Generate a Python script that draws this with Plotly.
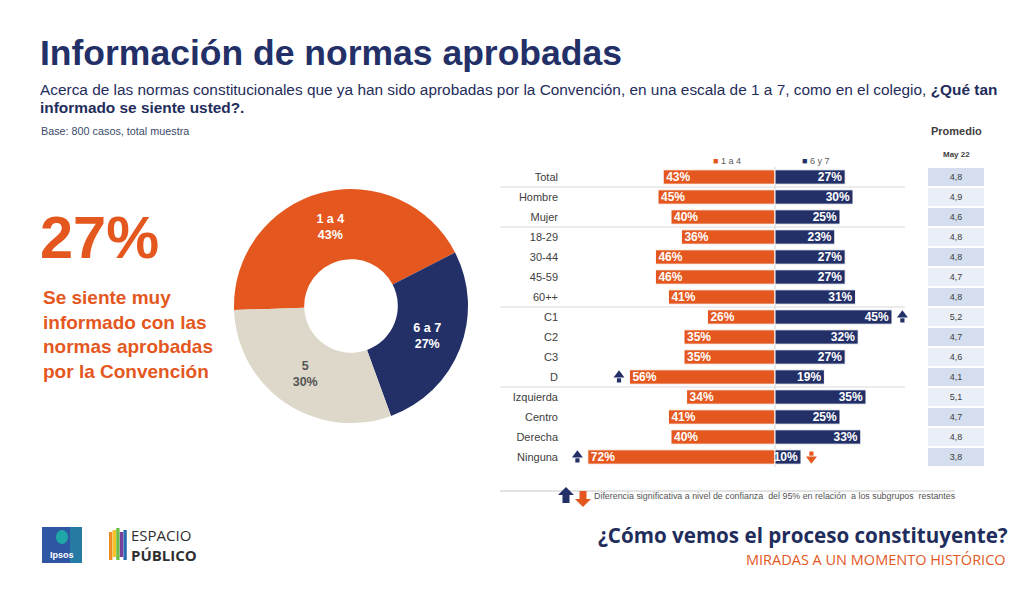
import plotly.graph_objects as go

W, H = 1024, 592
OFF = 8  # the page body margin shifts the plot by 8px

ORANGE = '#E4571E'
NAVY = '#233068'
BEIGE = '#DDD8C9'
GRAY = '#404040'

# donut
donut_labels = ['1 a 4', '6 a 7', '5']
donut_values = [43, 27, 30]

# bars by subgroup
rows = ['Total', 'Hombre', 'Mujer', '18-29', '30-44', '45-59', '60++',
        'C1', 'C2', 'C3', 'D', 'Izquierda', 'Centro', 'Derecha', 'Ninguna']
group_sizes = [1, 2, 4, 4, 4]
v_1a4 = [43, 45, 40, 36, 46, 46, 41, 26, 35, 35, 56, 34, 41, 40, 72]
v_6y7 = [27, 30, 25, 23, 27, 27, 31, 45, 32, 27, 19, 35, 25, 33, 10]
sig_1a4 = ['', '', '', '', '', '', '', '', '', '', 'up', '', '', '', 'up']
sig_6y7 = ['', '', '', '', '', '', '', 'up', '', '', '', '', '', '', 'down']
promedio = ['4,8', '4,9', '4,6', '4,8', '4,8', '4,7', '4,8',
            '5,2', '4,7', '4,6', '4,1', '5,1', '4,7', '4,8', '3,8']


def px(x):
    return (x - OFF) / W


def py(y):
    return 1 - (y - OFF) / H


idx = list(range(len(rows)))
fig = go.Figure()

# donut
fig.add_trace(go.Pie(
    labels=donut_labels, values=donut_values, hole=0.4, sort=False,
    direction='clockwise', rotation=-92,
    marker=dict(colors=[ORANGE, NAVY, BEIGE], line=dict(width=0)),
    text=[f'<b>{l}<br>{v}%</b>' for l, v in zip(donut_labels, donut_values)],
    textinfo='text', textposition='inside', insidetextorientation='horizontal',
    textfont=dict(family='Liberation Sans, Arial', size=12.5, color=['white', 'white', '#555555']),
    domain=dict(x=[px(234), px(468)], y=[py(423), py(189)]),
    showlegend=False, hoverinfo='skip'))

# bars
fig.add_trace(go.Bar(
    y=idx, x=[-v for v in v_1a4], orientation='h', width=0.72,
    marker=dict(color=ORANGE, line=dict(color='white', width=1)),
    text=[f'<b>{v}%</b>' for v in v_1a4], textposition='inside', insidetextanchor='end',
    textfont=dict(family='Liberation Sans, Arial', size=12, color='white'),
    name='1 a 4', showlegend=False, hoverinfo='skip'))
fig.add_trace(go.Bar(
    y=idx, x=v_6y7, orientation='h', width=0.72,
    marker=dict(color=NAVY, line=dict(color='white', width=1)),
    text=[f'<b>{v}%</b>' for v in v_6y7], textposition='inside', insidetextanchor='end',
    textfont=dict(family='Liberation Sans, Arial', size=12, color='white'),
    name='6 y 7', showlegend=False, hoverinfo='skip'))

# significance arrows (head + stem)
ax, ay, ac, asym = [], [], [], []
for i in idx:
    for side, flag, v in ((-1, sig_1a4[i], v_1a4[i]), (1, sig_6y7[i], v_6y7[i])):
        if not flag:
            continue
        xx = side * (v + 4)
        col = NAVY if flag == 'up' else ORANGE
        d = -1 if flag == 'up' else 1
        ax += [xx, xx]
        ay += [i + d * 0.1, i - d * 0.17]
        ac += [col, col]
        asym += ['triangle-up' if flag == 'up' else 'triangle-down', 'square']
fig.add_trace(go.Scatter(
    x=ax, y=ay, mode='markers',
    marker=dict(color=ac, symbol=asym, size=[9.5 if s != 'square' else 4.2 for s in asym],
                opacity=1, line=dict(width=0)),
    showlegend=False, hoverinfo='skip'))

# promedio column
fig.add_trace(go.Heatmap(
    x=[0], y=idx, z=[[i % 2] for i in idx], text=[[p] for p in promedio],
    texttemplate='%{text}', textfont=dict(family='Liberation Sans, Arial', size=9, color=GRAY),
    colorscale=[[0, '#D5DEEE'], [1, '#E9EEF7']], showscale=False, ygap=2,
    xaxis='x2', yaxis='y', hoverinfo='skip'))

zero = 775
scale = 2.6
fig.update_layout(
    width=W, height=H, margin=dict(l=0, r=0, t=0, b=0),
    paper_bgcolor='white', plot_bgcolor='rgba(0,0,0,0)',
    barmode='overlay', uniformtext=dict(minsize=12, mode='show'),
    xaxis=dict(domain=[px(559), px(920)],
               range=[-(zero - 559) / scale, (920 - zero) / scale],
               showgrid=False, zeroline=False, showticklabels=False, fixedrange=True),
    xaxis2=dict(domain=[px(928), px(984)], range=[-0.5, 0.5], anchor='y',
                showgrid=False, zeroline=False, showticklabels=False),
    yaxis=dict(domain=[py(467), py(167)], range=[len(rows) - 0.5, -0.5],
               tickvals=idx, ticktext=rows, ticks='', showgrid=False, zeroline=False,
               tickfont=dict(family='Liberation Sans, Arial', size=11, color=GRAY)),
    font=dict(family='Liberation Sans, Arial'),
)

shapes = []
# group separators
b = 0
for g in group_sizes[:-1]:
    b += g
    shapes.append(dict(type='line', xref='paper', yref='y', x0=px(500), x1=px(905),
                       y0=b - 0.5, y1=b - 0.5, line=dict(color='#D9D9D9', width=1)))
# zero divider
shapes.append(dict(type='line', xref='x', yref='y', x0=0, x1=0, y0=-0.75, y1=len(rows) - 0.5,
                   line=dict(color='#D6D6D6', width=1), layer='below'))
# footnote rule
shapes.append(dict(type='line', xref='paper', yref='paper', x0=px(500), x1=px(955),
                   y0=py(491), y1=py(491), line=dict(color='#C8C8C8', width=1)))


def arrow_path(cx, top, bottom, hw, sw, head, up=True):
    if up:
        pts = [(cx, top), (cx + hw, top + head), (cx + sw, top + head), (cx + sw, bottom),
               (cx - sw, bottom), (cx - sw, top + head), (cx - hw, top + head)]
    else:
        pts = [(cx, bottom), (cx + hw, bottom - head), (cx + sw, bottom - head), (cx + sw, top),
               (cx - sw, top), (cx - sw, bottom - head), (cx - hw, bottom - head)]
    return 'M ' + ' L '.join(f'{px(a):.5f},{py(c):.5f}' for a, c in pts) + ' Z'


shapes.append(dict(type='path', xref='paper', yref='paper', path=arrow_path(566, 487, 503, 8, 3.5, 8, True),
                   fillcolor=NAVY, line=dict(width=0)))
shapes.append(dict(type='path', xref='paper', yref='paper', path=arrow_path(583, 491, 507, 8, 3.5, 8, False),
                   fillcolor=ORANGE, line=dict(width=0)))

# Ipsos logo
shapes.append(dict(type='rect', xref='paper', yref='paper', x0=px(42), x1=px(82), y0=py(563), y1=py(527),
                   fillcolor='#2F56A3', line=dict(width=0)))
shapes.append(dict(type='circle', xref='paper', yref='paper', x0=px(56), x1=px(68), y0=py(544), y1=py(530),
                   fillcolor='#1FA7A8', line=dict(width=0)))
shapes.append(dict(type='rect', xref='paper', yref='paper', x0=px(70), x1=px(82), y0=py(563), y1=py(527),
                   fillcolor='#1E9AA6', line=dict(width=0), opacity=0.55))
# Espacio Publico bars
for k, c in enumerate(['#F08A24', '#F6C12B', '#6DBE45', '#7A3F98', '#2B6CB0']):
    shapes.append(dict(type='rect', xref='paper', yref='paper',
                       x0=px(109 + k * 3.6), x1=px(112.4 + k * 3.6),
                       y0=py(560 - (k % 2) * 3), y1=py(532 - (k % 3) * 2),
                       fillcolor=c, line=dict(width=0)))
fig.update_layout(shapes=shapes)

ann = []


def text(x, y, s, size, color, family='Liberation Sans, Arial', xanchor='left', yanchor='middle'):
    ann.append(dict(x=px(x), y=py(y), xref='paper', yref='paper', text=s, showarrow=False,
                    xanchor=xanchor, yanchor=yanchor, align=xanchor if xanchor != 'center' else 'center',
                    font=dict(family=family, size=size, color=color)))


text(38, 53, '<b>Información de normas aprobadas</b>', 35.5, NAVY)
text(38, 89, 'Acerca de las normas constitucionales que ya han sido aprobadas por la Convención, '
             'en una escala de 1 a 7, como en el colegio, <b>¿Qué tan</b>', 15.4, '#1F2D5C')
text(38, 108, '<b>informado se siente usted?.</b>', 15.4, '#1F2D5C')
text(39, 131, 'Base: 800 casos, total muestra', 10.8, '#3A4A6A')
text(38, 238, '<b>27%</b>', 59.5, ORANGE)
text(41, 334, '<b>Se siente muy<br>informado con las<br>normas aprobadas<br>por la Convención</b>',
     19, ORANGE)
text(956, 131, '<b>Promedio</b>', 11, GRAY, xanchor='center')
text(956, 155, '<b>May 22</b>', 8, GRAY, xanchor='center')
text(727, 161, f'<span style="color:{ORANGE}">■</span> 1 a 4', 9, '#595959', xanchor='center')
text(815, 161, f'<span style="color:{NAVY}">■</span> 6 y 7', 9, '#595959', xanchor='center')
text(592, 496, 'Diferencia significativa a nivel de confianza  del 95% en relación  a los subgrupos  restantes',
     8.9, '#555555')
text(62, 555, '<b>Ipsos</b>', 9, 'white', xanchor='center')
text(129, 545, 'ESPACIO<br><b>PÚBLICO</b>', 15, '#2F2F2F', family='Open Sans')
text(1010, 534.5, '<b>¿Cómo vemos el proceso constituyente?</b>', 20.6, '#1F2D5C',
     family='Open Sans', xanchor='right')
text(1008, 559.5, 'MIRADAS A UN MOMENTO HISTÓRICO', 14.5, ORANGE, family='Open Sans', xanchor='right')
fig.update_layout(annotations=ann)

fig.write_html('out.html')
